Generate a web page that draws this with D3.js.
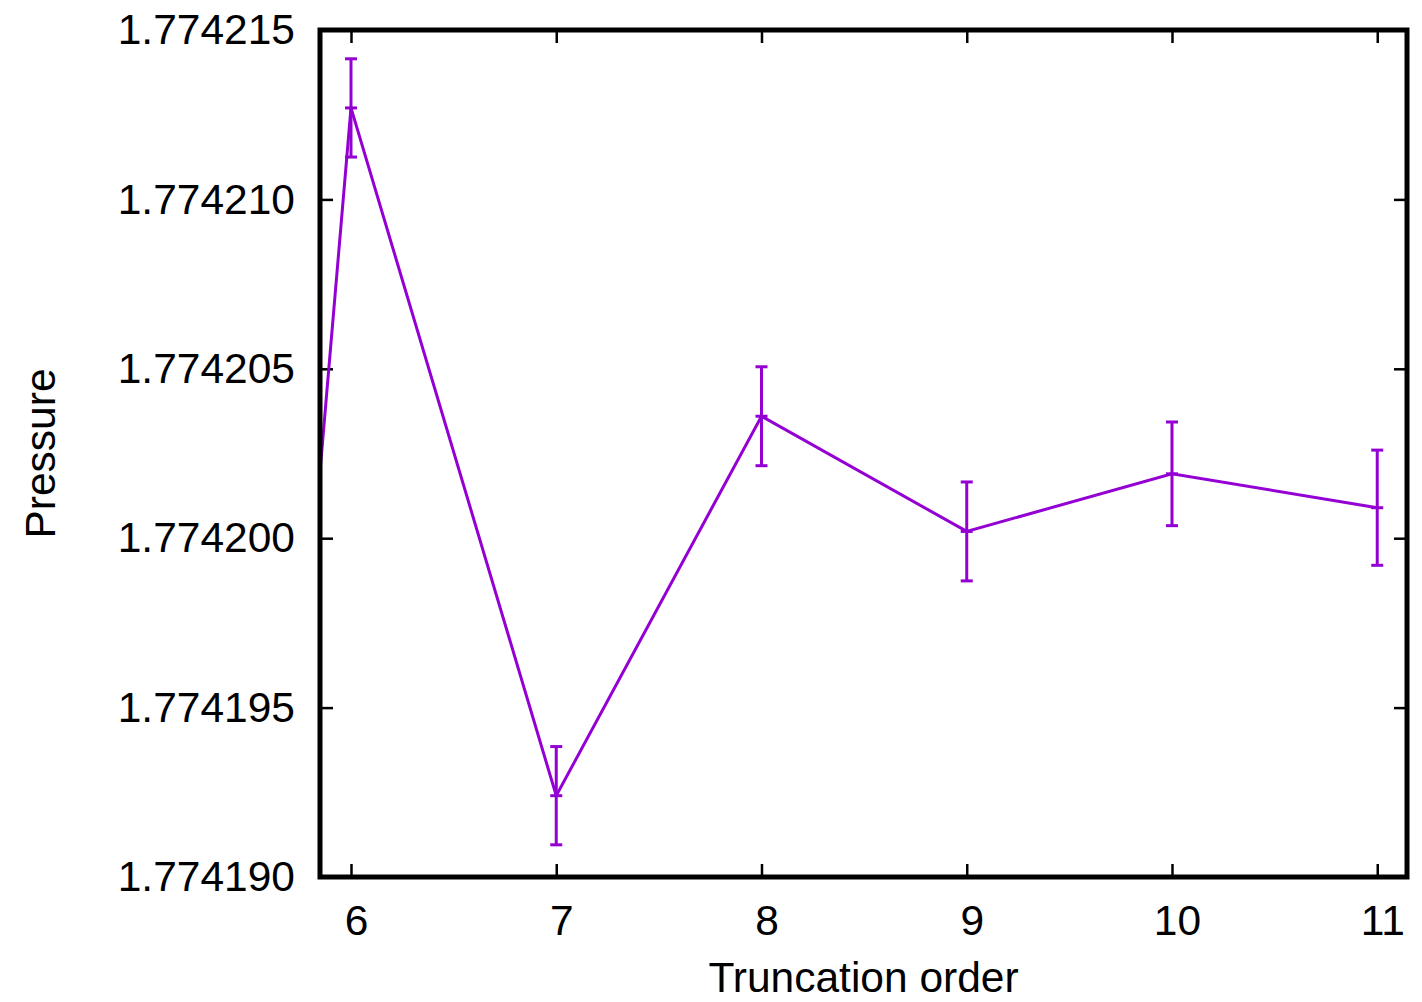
<!DOCTYPE html>
<html>
<head>
<meta charset="utf-8">
<script src="https://cdn.jsdelivr.net/npm/d3@7"></script>
<style>
  html, body { margin: 0; padding: 0; background: #fff; }
  svg { display: block; font-family: "Liberation Sans", Arial, sans-serif; }
</style>
</head>
<body>
<svg></svg>
<script>
// data
var orders   = [5, 6, 7, 8, 9, 10, 11];
var pressure = [1.7741415, 1.7742127, 1.7741924, 1.7742036, 1.7742002, 1.7742019, 1.7742009];
var errors   = [1.5e-6, 1.45e-6, 1.45e-6, 1.46e-6, 1.46e-6, 1.53e-6, 1.70e-6];
var xTicks = [6, 7, 8, 9, 10, 11];
var yTicks = [1.774190, 1.774195, 1.774200, 1.774205, 1.774210, 1.774215];

var data = orders.map(function (o, i) {
    return { order: o, p: pressure[i], err: errors[i] };
});

var WIDTH = 1422, HEIGHT = 1002;
var margin = { top: 30, right: 15, bottom: 125, left: 320 },
    width = WIDTH - margin.left - margin.right,
    height = HEIGHT - margin.top - margin.bottom;

var color = "#9400D3";
var fontSize = 42.5;

var svg = d3.select("svg")
    .attr("width", WIDTH)
    .attr("height", HEIGHT);

var root = svg.append("g")
    .attr("transform", "translate(" + margin.left + "," + margin.top + ")");

var x = d3.scaleLinear().domain([5.849, 11.145]).range([0, width]);
var y = d3.scaleLinear().domain([1.774190, 1.774215]).range([height, 0]);

root.append("defs").append("clipPath").attr("id", "plot-clip")
    .append("rect")
    .attr("width", width)
    .attr("height", height);

// axes (ticks pointing inward, mirrored on top/right)
function styleAxis(g) {
    g.select(".domain").remove();
    g.selectAll(".tick line").attr("stroke", "#000").attr("stroke-width", 2.5);
    g.selectAll(".tick text").attr("fill", "#000");
    g.attr("font-size", fontSize).attr("font-family", "Liberation Sans, Arial, sans-serif");
}

root.append("g")
    .attr("transform", "translate(0," + height + ")")
    .call(d3.axisBottom(x).tickValues(xTicks).tickSize(-13).tickPadding(28).tickFormat(d3.format("d")))
    .call(styleAxis)
    .selectAll(".tick text").attr("dx", 5);

root.append("g")
    .call(d3.axisTop(x).tickValues(xTicks).tickSize(-13).tickFormat(""))
    .call(styleAxis);

root.append("g")
    .call(d3.axisLeft(y).tickValues(yTicks).tickSize(-13).tickPadding(25).tickFormat(function (d) { return d.toFixed(6); }))
    .call(styleAxis);

root.append("g")
    .attr("transform", "translate(" + width + ",0)")
    .call(d3.axisRight(y).tickValues(yTicks).tickSize(-13).tickFormat(""))
    .call(styleAxis);

// series
var plot = root.append("g").attr("clip-path", "url(#plot-clip)");

plot.append("path")
    .datum(data)
    .attr("fill", "none")
    .attr("stroke", color)
    .attr("stroke-width", 3)
    .attr("d", d3.line().x(function (d) { return x(d.order); }).y(function (d) { return y(d.p); }));

var bars = plot.selectAll(".errbar")
    .data(data)
    .enter().append("g")
    .attr("class", "errbar")
    .attr("stroke", color)
    .attr("stroke-width", 3);

bars.append("line")
    .attr("x1", function (d) { return x(d.order); })
    .attr("x2", function (d) { return x(d.order); })
    .attr("y1", function (d) { return y(d.p + d.err); })
    .attr("y2", function (d) { return y(d.p - d.err); });

[1, 0, -1].forEach(function (k) {
    bars.append("line")
        .attr("x1", function (d) { return x(d.order) - 6; })
        .attr("x2", function (d) { return x(d.order) + 6; })
        .attr("y1", function (d) { return y(d.p + k * d.err); })
        .attr("y2", function (d) { return y(d.p + k * d.err); });
});

// frame
root.append("rect")
    .attr("width", width)
    .attr("height", height)
    .attr("fill", "none")
    .attr("stroke", "#000")
    .attr("stroke-width", 5);

// titles
svg.append("text")
    .attr("x", margin.left + width / 2)
    .attr("y", 992)
    .attr("text-anchor", "middle")
    .attr("font-size", fontSize)
    .text("Truncation order");

svg.append("text")
    .attr("transform", "translate(55," + (margin.top + height / 2) + ") rotate(-90)")
    .attr("text-anchor", "middle")
    .attr("font-size", fontSize)
    .text("Pressure");
</script>
</body>
</html>
